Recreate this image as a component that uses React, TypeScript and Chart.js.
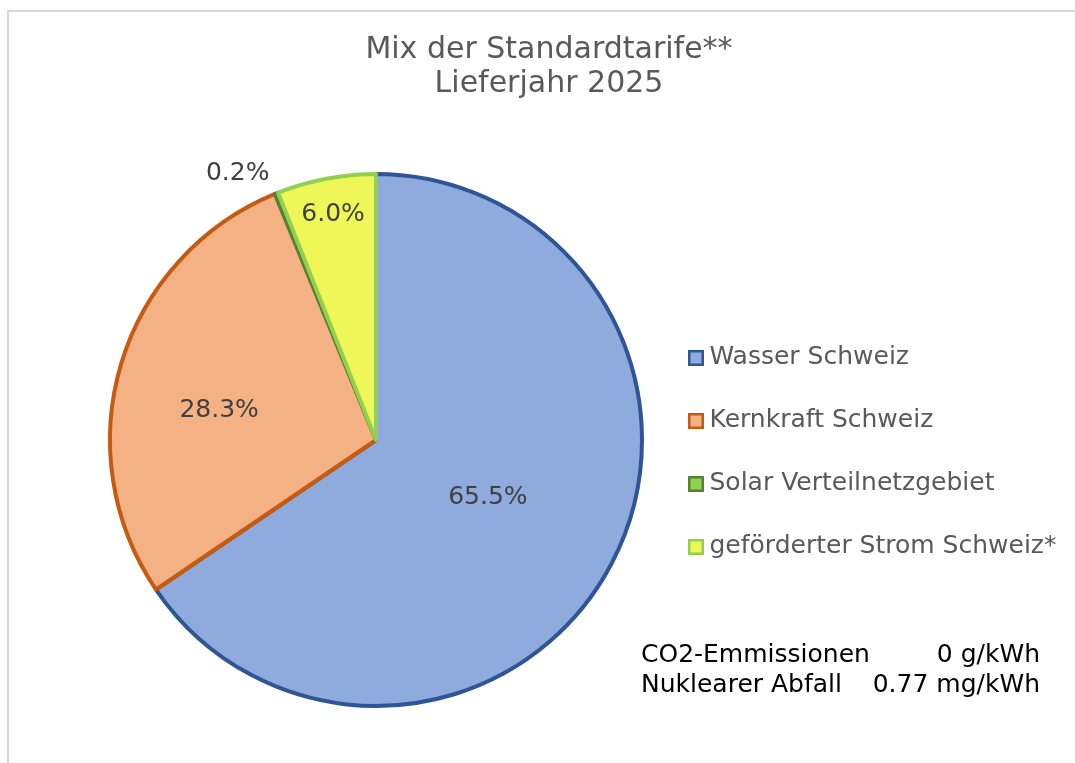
import { useEffect, useRef } from 'react';
import { Chart, registerables } from 'chart.js';

Chart.register(...registerables);

const FONT = "'DejaVu Sans', Verdana, sans-serif";

const titleLines = ['Mix der Standardtarife**', 'Lieferjahr 2025'];
const categories = [
  'Wasser Schweiz',
  'Kernkraft Schweiz',
  'Solar Verteilnetzgebiet',
  'geförderter Strom Schweiz*',
];
const shares = [65.5, 28.3, 0.2, 6.0];
const sliceFill = ['#8FAADC', '#F4B183', '#92D050', '#EEF757'];
const sliceBorder = ['#2F5597', '#C55A11', '#548235', '#92D050'];
const swatchFill = ['#8FAADC', '#F4B183', '#92D050', '#EEF757'];
const swatchBorder = ['#2F5597', '#C55A11', '#548235', '#92D050'];
// label placement: fraction of the radius, and angular shift (degrees) from the slice middle
const labelRadius = [0.473, 0.6, 1.128, 0.862];
const labelAngleShift = [-0.7, -6.2, -5.5, 0];
const footerLabels = ['CO2-Emmissionen', 'Nuklearer Abfall'];
const footerValues = ['0 g/kWh', '0.77 mg/kWh'];

function makeSwatch(fill: string, stroke: string) {
  const c = document.createElement('canvas');
  c.width = 16;
  c.height = 17;
  const g = c.getContext('2d')!;
  g.fillStyle = fill;
  g.fillRect(0, 1, 16, 16);
  g.strokeStyle = stroke;
  g.lineWidth = 2.5;
  g.strokeRect(1.25, 2.25, 13.5, 13.5);
  return c;
}

const sliceLabelPlugin = {
  id: 'sliceLabels',
  afterDatasetsDraw(chart: any) {
    const ctx = chart.ctx;
    const meta = chart.getDatasetMeta(0);
    ctx.save();
    ctx.font = `25px ${FONT}`;
    ctx.fillStyle = '#404040';
    ctx.textAlign = 'center';
    ctx.textBaseline = 'middle';
    meta.data.forEach((arc: any, i: number) => {
      const { x, y, startAngle, endAngle, outerRadius } = arc.getProps(
        ['x', 'y', 'startAngle', 'endAngle', 'outerRadius'],
        true
      );
      const mid = (startAngle + endAngle) / 2 + (labelAngleShift[i] * Math.PI) / 180;
      const r = outerRadius * labelRadius[i];
      ctx.fillText(shares[i].toFixed(1) + '%', x + Math.cos(mid) * r, y + Math.sin(mid) * r);
    });
    ctx.restore();
  },
};

// let the legend draw its (long) labels past its layout box
const legendClipPlugin = {
  id: 'legendClip',
  afterLayout(chart: any) {
    const lg = chart.legend;
    if (lg) {
      lg.right = chart.width;
      lg.width = chart.width - lg.left;
    }
  },
};

const footerPlugin = {
  id: 'footerNotes',
  afterDraw(chart: any) {
    const ctx = chart.ctx;
    ctx.save();
    ctx.font = `25px ${FONT}`;
    ctx.fillStyle = '#000000';
    ctx.textBaseline = 'middle';
    footerLabels.forEach((lab, i) => {
      const y = 655.5 + i * 29.5;
      ctx.textAlign = 'left';
      ctx.fillText(lab, 641, y);
      ctx.textAlign = 'right';
      ctx.fillText(footerValues[i], 1040, y);
    });
    ctx.restore();
  },
};

export default function App() {
  const ref = useRef<HTMLCanvasElement | null>(null);

  useEffect(() => {
    if (!ref.current) return;
    const swatches = categories.map((_, i) => makeSwatch(swatchFill[i], swatchBorder[i]));
    Chart.defaults.font.family = FONT;
    const chart = new Chart(ref.current, {
      type: 'pie',
      data: {
        labels: categories,
        datasets: [
          {
            data: shares,
            backgroundColor: sliceFill,
            borderColor: sliceBorder,
            borderWidth: 4,
            hoverBorderWidth: 4,
            hoverOffset: 0,
            borderJoinStyle: 'round',
          } as any,
        ],
      },
      options: {
        responsive: false,
        animation: false,
        events: [],
        layout: { padding: { left: 95, right: 72, top: 10, bottom: 55 } },
        plugins: {
          tooltip: { enabled: false },
          title: {
            display: true,
            text: titleLines,
            color: '#595959',
            font: { family: FONT, size: 30, weight: 'normal', lineHeight: 34 / 30 },
            padding: { top: 23, bottom: 71 },
          },
          legend: {
            position: 'right',
            align: 'center',
            fullSize: false,
            maxWidth: 346,
            title: { display: true, text: ' ', padding: 0, font: { size: 20, lineHeight: 1.2 } },
            labels: {
              usePointStyle: true,
              pointStyleWidth: 2,
              boxHeight: 16,
              padding: 38,
              color: '#595959',
              font: { family: FONT, size: 25 },
              generateLabels: () =>
                categories.map((text, i) => ({
                  text,
                  fillStyle: swatchFill[i],
                  strokeStyle: swatchBorder[i],
                  lineWidth: 0,
                  pointStyle: swatches[i],
                  fontColor: '#595959',
                  hidden: false,
                  index: i,
                  datasetIndex: 0,
                })) as any,
            },
          } as any,
        },
      },
      plugins: [legendClipPlugin, sliceLabelPlugin, footerPlugin],
    });
    return () => chart.destroy();
  }, []);

  return (
    <div
      style={{
        position: 'fixed',
        left: 0,
        top: 0,
        width: 1075,
        height: 763,
        overflow: 'hidden',
        background: '#ffffff',
      }}
    >
      <div
        style={{
          position: 'absolute',
          left: 7,
          top: 10,
          width: 1100,
          height: 800,
          borderLeft: '2px solid #D9D9D9',
          borderTop: '2px solid #D9D9D9',
          boxSizing: 'border-box',
        }}
      />
      <canvas
        ref={ref}
        width={1075}
        height={763}
        style={{ position: 'absolute', left: 0, top: 0, width: 1075, height: 763 }}
      />
    </div>
  );
}
